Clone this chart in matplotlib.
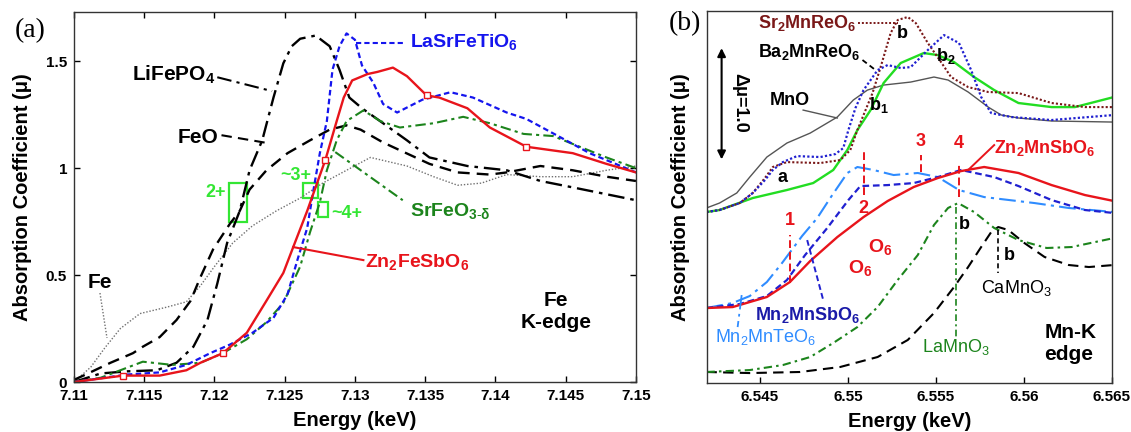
import matplotlib
matplotlib.use("Agg")
import matplotlib.pyplot as plt
from matplotlib.patches import Rectangle

plt.rcParams['font.family'] = ['Liberation Sans', 'DejaVu Sans']
plt.rcParams['mathtext.fontset'] = 'custom'
plt.rcParams['mathtext.rm'] = 'Liberation Sans'
plt.rcParams['mathtext.bf'] = 'Liberation Sans:bold'
plt.rcParams['mathtext.it'] = 'Liberation Sans:italic'

# ---------------- panel (a): Fe K-edge ----------------
fe_x = [7.11, 7.1112, 7.1122, 7.1133, 7.1147, 7.1166, 7.118, 7.119, 7.12, 7.1213, 7.1227, 7.1244, 7.1261,
        7.1277, 7.1294, 7.1311, 7.1337, 7.1356, 7.1373, 7.139, 7.1408, 7.1432, 7.1455, 7.1479, 7.15]
fe_y = [0.0, 0.07, 0.16, 0.25, 0.32, 0.35, 0.375, 0.45, 0.54, 0.65, 0.73, 0.80, 0.86,
        0.93, 0.99, 1.05, 1.01, 0.96, 0.92, 0.93, 0.97, 0.96, 0.96, 0.99, 1.01]

feo_x = [7.11, 7.111, 7.1126, 7.1142, 7.1149, 7.1161, 7.1173, 7.1183, 7.119, 7.1199, 7.1211, 7.1218, 7.1225,
         7.1237, 7.1252, 7.1268, 7.1282, 7.1294, 7.1304, 7.132, 7.1353, 7.1373, 7.1396, 7.1408, 7.1432,
         7.1455, 7.1479, 7.15]
feo_y = [0.01, 0.04, 0.09, 0.135, 0.165, 0.21, 0.29, 0.38, 0.49, 0.62, 0.74, 0.80, 0.90,
         0.99, 1.07, 1.13, 1.18, 1.20, 1.18, 1.12, 1.02, 0.98, 0.97, 0.98, 1.01,
         0.99, 0.96, 0.94]

lifepo4_x = [7.11, 7.1119, 7.1138, 7.1159, 7.1173, 7.1185, 7.1195, 7.1202, 7.1209, 7.1218, 7.1225, 7.1234,
             7.1242, 7.1249, 7.1255, 7.1261, 7.1272, 7.1282, 7.1289, 7.1296, 7.1305, 7.132, 7.1337, 7.1353,
             7.138, 7.1408, 7.1432, 7.1455, 7.15]
lifepo4_y = [0.0, 0.04, 0.05, 0.055, 0.09, 0.165, 0.29, 0.46, 0.65, 0.80, 0.99, 1.13,
             1.33, 1.49, 1.57, 1.605, 1.62, 1.57, 1.46, 1.33, 1.28, 1.21, 1.13, 1.05,
             1.01, 0.99, 0.94, 0.91, 0.85]

srfeo3_x = [7.11, 7.1119, 7.1133, 7.1149, 7.117, 7.119, 7.1206, 7.1223, 7.1237, 7.1249, 7.1261, 7.1268,
            7.1275, 7.128, 7.1287, 7.1294, 7.1306, 7.1318, 7.1332, 7.1356, 7.1377, 7.1396, 7.142, 7.1441,
            7.146, 7.1479, 7.15]
srfeo3_y = [0.0, 0.02, 0.055, 0.095, 0.08, 0.09, 0.135, 0.20, 0.28, 0.37, 0.54, 0.70,
            0.84, 0.99, 1.13, 1.22, 1.27, 1.22, 1.19, 1.21, 1.24, 1.21, 1.16, 1.15,
            1.10, 1.05, 1.0]

lasr_x = [7.11, 7.1138, 7.1161, 7.118, 7.1197, 7.1211, 7.1227, 7.1242, 7.1252, 7.1259, 7.1266, 7.127,
          7.1275, 7.128, 7.1284, 7.1289, 7.1294, 7.13, 7.1305, 7.1313, 7.132, 7.133, 7.1348, 7.1368,
          7.1384, 7.1408, 7.1422, 7.1446, 7.1467, 7.1491, 7.15]
lasr_y = [0.0, 0.035, 0.045, 0.08, 0.135, 0.175, 0.23, 0.30, 0.41, 0.57, 0.72, 0.88,
          1.07, 1.22, 1.46, 1.57, 1.63, 1.60, 1.48, 1.40, 1.30, 1.26, 1.32, 1.355,
          1.33, 1.26, 1.23, 1.145, 1.07, 1.005, 0.98]

zfs_x = [7.11, 7.1135, 7.1161, 7.118, 7.119, 7.1206, 7.1223, 7.1237, 7.1249, 7.1256, 7.1266, 7.1279,
         7.1287, 7.1292, 7.1298, 7.1309, 7.1316, 7.1327, 7.1337, 7.1351, 7.136, 7.138, 7.1396, 7.1422,
         7.1455, 7.1479, 7.15]
zfs_y = [0.0, 0.03, 0.03, 0.055, 0.09, 0.135, 0.23, 0.38, 0.51, 0.63, 0.80, 1.04,
         1.22, 1.33, 1.41, 1.44, 1.45, 1.47, 1.43, 1.34, 1.33, 1.28, 1.19, 1.10,
         1.07, 1.02, 0.98]
zfs_mark_x = [7.1135, 7.1206, 7.1279, 7.1351, 7.1422]
zfs_mark_y = [0.03, 0.135, 1.04, 1.34, 1.10]

a_xticks = [7.11, 7.115, 7.12, 7.125, 7.13, 7.135, 7.14, 7.145, 7.15]
a_yticks = [0, 0.5, 1, 1.5]
a_yticklabels = ['0', '0.5', '1', '1.5']

# ---------------- panel (b): Mn K-edge ----------------
mno_x = [6.54197, 6.54271, 6.54369, 6.54443, 6.5454, 6.54654, 6.54786, 6.5494, 6.55031, 6.55111, 6.55203,
         6.55357, 6.55489, 6.55569, 6.55683, 6.55797, 6.55871, 6.55969, 6.56157, 6.56511]
mno_y = [1.636, 1.682, 1.776, 1.925, 2.112, 2.243, 2.336, 2.486, 2.645, 2.738, 2.785,
         2.813, 2.860, 2.832, 2.720, 2.579, 2.505, 2.477, 2.449, 2.439]

ba_x = [6.54197, 6.54271, 6.54386, 6.5446, 6.54529, 6.54574, 6.54631, 6.54711, 6.54843, 6.54929, 6.54974,
        6.55003, 6.55043, 6.55089, 6.55169, 6.55226, 6.553, 6.55357, 6.55454, 6.55546, 6.55631, 6.557,
        6.55757, 6.55814, 6.55929, 6.56157, 6.56511]
ba_y = [1.598, 1.617, 1.682, 1.776, 1.897, 1.991, 2.065, 2.121, 2.112, 2.140, 2.196,
        2.364, 2.570, 2.738, 2.925, 2.972, 2.944, 2.953, 3.112, 3.252, 3.178, 2.925,
        2.673, 2.523, 2.486, 2.458, 2.505]

sr_x = [6.54197, 6.54271, 6.54386, 6.5446, 6.54529, 6.54574, 6.54654, 6.54843, 6.54957, 6.55014, 6.55054,
        6.5514, 6.55186, 6.55243, 6.55283, 6.5534, 6.55386, 6.55454, 6.55529, 6.55586, 6.55683, 6.55797,
        6.55969, 6.56157, 6.56346, 6.56511]
sr_y = [1.598, 1.617, 1.682, 1.776, 1.916, 2.019, 2.065, 2.056, 2.084, 2.178, 2.364,
        2.710, 2.953, 3.271, 3.393, 3.421, 3.364, 3.178, 3.0, 2.860, 2.766, 2.720,
        2.710, 2.617, 2.579, 2.579]

lime_x = [6.54197, 6.54271, 6.5446, 6.54654, 6.54803, 6.54917, 6.54997, 6.55054, 6.55129, 6.55203, 6.553,
          6.55431, 6.55511, 6.55603, 6.55717, 6.55831, 6.55969, 6.56157, 6.56289, 6.56511]
lime_y = [1.598, 1.617, 1.729, 1.804, 1.869, 1.991, 2.178, 2.364, 2.551, 2.804, 2.991,
          3.084, 3.065, 3.0, 2.860, 2.738, 2.617, 2.579, 2.579, 2.673]

zms_x = [6.54197, 6.54346, 6.5454, 6.54671, 6.54786, 6.5494, 6.55089, 6.55226, 6.55374, 6.55511, 6.55643,
         6.55774, 6.55969, 6.56157, 6.56346, 6.56511]
zms_y = [0.701, 0.710, 0.804, 0.944, 1.140, 1.364, 1.551, 1.701, 1.832, 1.916, 1.981,
         2.019, 1.963, 1.850, 1.757, 1.701]

mmte_x = [6.54197, 6.54346, 6.54443, 6.5454, 6.54626, 6.5474, 6.54826, 6.549, 6.54997, 6.55054, 6.55146,
          6.5526, 6.55397, 6.55511, 6.55631, 6.55774, 6.5606, 6.56254, 6.56511]
mmte_y = [0.701, 0.748, 0.813, 0.944, 1.121, 1.374, 1.542, 1.729, 1.963, 2.019, 1.991,
          1.944, 1.963, 1.925, 1.804, 1.738, 1.682, 1.636, 1.598]

mmsb_x = [6.54197, 6.54386, 6.5454, 6.54654, 6.54757, 6.54883, 6.55003, 6.55071, 6.55226, 6.55374, 6.55511,
          6.55643, 6.55831, 6.55969, 6.56157, 6.56346, 6.56511]
mmsb_y = [0.701, 0.738, 0.813, 0.963, 1.196, 1.449, 1.710, 1.841, 1.850, 1.869, 1.925,
          1.991, 1.925, 1.841, 1.710, 1.617, 1.589]

lamn_x = [6.54197, 6.54443, 6.54631, 6.54786, 6.54917, 6.55054, 6.55169, 6.55283, 6.55397, 6.55489, 6.55569,
          6.55626, 6.55717, 6.55831, 6.55969, 6.56129, 6.56271, 6.56511]
lamn_y = [0.103, 0.121, 0.168, 0.243, 0.374, 0.523, 0.710, 0.963, 1.196, 1.477, 1.636,
          1.682, 1.598, 1.449, 1.336, 1.262, 1.271, 1.355]

camn_x = [6.54197, 6.54443, 6.54729, 6.54957, 6.55169, 6.5534, 6.55489, 6.55603, 6.55683, 6.55757, 6.55814,
          6.55854, 6.55911, 6.56003, 6.56117, 6.56254, 6.56369, 6.56511]
camn_y = [0.103, 0.093, 0.103, 0.150, 0.243, 0.402, 0.654, 0.897, 1.084, 1.271, 1.411,
          1.458, 1.430, 1.308, 1.178, 1.103, 1.084, 1.103]

# red dashed feature markers 1-4: energy, line bottom, line top, label y
feat_labels = ['1', '2', '3', '4']
feat_x = [6.54671, 6.55089, 6.55414, 6.55631]
feat_lo = [0.935, 1.757, 1.972, 1.738]
feat_hi = [1.383, 2.159, 2.131, 2.065]
feat_ty = [1.52, 1.63, 2.26, 2.24]

b_xticks = [6.545, 6.55, 6.555, 6.56, 6.565]

RED = '#e8141b'
BLUE = '#1515ee'
DGREEN = '#1c841c'
LIME = '#33e633'

fig = plt.figure(figsize=(11.31, 4.32), dpi=100)
ax1 = fig.add_axes([0.0654, 0.1157, 0.4969, 0.8565])
ax2 = fig.add_axes([0.6251, 0.1134, 0.3581, 0.8611])

# ---- panel (a)
ax1.plot(fe_x, fe_y, color='#707070', lw=1.0, ls=(0, (1, 1.3)))
ax1.plot(feo_x, feo_y, color='k', lw=1.7, ls=(0, (5, 3)))
ax1.plot(lifepo4_x, lifepo4_y, color='k', lw=1.7, ls=(0, (7, 2.5, 1.5, 2.5)))
ax1.plot(srfeo3_x, srfeo3_y, color=DGREEN, lw=1.5, ls=(0, (5, 2, 1.5, 2)))
ax1.plot(lasr_x, lasr_y, color=BLUE, lw=1.6, ls=(0, (2.5, 1.5)))
ax1.plot(zfs_x, zfs_y, color=RED, lw=1.7)
ax1.plot(zfs_mark_x, zfs_mark_y, 's', ms=4.5, mfc='white', mec=RED, mew=1.0)

ax1.set_xlim(7.11, 7.15)
ax1.set_ylim(0, 1.73)
ax1.set_xticks(a_xticks)
ax1.set_xticklabels([('%g' % v) for v in a_xticks])
ax1.set_yticks(a_yticks)
ax1.set_yticklabels(a_yticklabels)

# leader lines and labels
ax1.plot([7.1202, 7.1241], [1.425, 1.36], color='k', lw=1.5, ls=(0, (7, 2.5, 1.5, 2.5)))
ax1.text(7.1201, 1.435, r'LiFePO$_\mathbf{4}$', ha='right', va='center', fontsize=15, fontweight='bold')
ax1.plot([7.1205, 7.1238], [1.154, 1.117], color='k', lw=1.5, ls=(0, (5, 3)))
ax1.text(7.1203, 1.145, 'FeO', ha='right', va='center', fontsize=15, fontweight='bold')
ax1.plot([7.11185, 7.11235], [0.416, 0.206], color='#707070', lw=1.0, ls=(0, (1, 1.3)))
ax1.text(7.11185, 0.467, 'Fe', ha='center', va='center', fontsize=15, fontweight='bold')
ax1.plot([7.1301, 7.1336], [1.584, 1.584], color=BLUE, lw=1.5, ls=(0, (2.5, 1.5)))
ax1.text(7.1339, 1.589, r'LaSrFeTiO$_\mathbf{6}$', ha='left', va='center', fontsize=14,
         fontweight='bold', color=BLUE)
ax1.plot([7.1286, 7.1334], [1.075, 0.85], color=DGREEN, lw=1.5, ls=(0, (5, 2, 1.5, 2)))
ax1.text(7.1339, 0.80, r'SrFeO$_{\mathbf{3\text{-}δ}}$', ha='left', va='center', fontsize=14,
         fontweight='bold', color=DGREEN)
ax1.plot([7.1256, 7.1306], [0.631, 0.570], color=RED, lw=1.5)
ax1.text(7.1307, 0.561, r'Zn$_\mathbf{2}$FeSbO$_\mathbf{6}$', ha='left', va='center', fontsize=14,
         fontweight='bold', color=RED)
ax1.text(7.1443, 0.33, 'Fe\nK-edge', ha='center', va='center', fontsize=15, fontweight='bold',
         linespacing=1.15)

# oxidation-state boxes
ax1.add_patch(Rectangle((7.1210, 0.748), 0.00135, 0.182, fill=False, ec=LIME, lw=1.6))
ax1.add_patch(Rectangle((7.1263, 0.86), 0.00107, 0.07, fill=False, ec=LIME, lw=1.6))
ax1.add_patch(Rectangle((7.12737, 0.771), 0.0007, 0.07, fill=False, ec=LIME, lw=1.6))
ax1.text(7.1208, 0.888, '2+', ha='right', va='center', fontsize=13, fontweight='bold', color=LIME)
ax1.text(7.1258, 0.965, '~3+', ha='center', va='center', fontsize=13, fontweight='bold', color=LIME)
ax1.text(7.1283, 0.79, '~4+', ha='left', va='center', fontsize=13, fontweight='bold', color=LIME)

ax1.tick_params(direction='in', top=True, right=True, length=4, width=1, pad=5,
                labelsize=11, colors='k')
for lab in ax1.get_xticklabels() + ax1.get_yticklabels():
    lab.set_fontweight('bold')
ax1.set_xlabel('Energy (keV)', fontsize=14.5, fontweight='bold')
ax1.xaxis.set_label_coords(0.5, -0.078)
ax1.set_ylabel('Absorption Coefficient (μ)', fontsize=14.5, fontweight='bold')
ax1.yaxis.set_label_coords(-0.074, 0.5)
fig.text(0.027, 0.93, '(a)', family='Liberation Serif', fontsize=20, ha='center', va='center')

# ---- panel (b)
ax2.plot(mno_x, mno_y, color='#555555', lw=1.0)
ax2.plot(lime_x, lime_y, color='#22dd22', lw=1.7)
ax2.plot(sr_x, sr_y, color='#7a1818', lw=1.5, ls=(0, (1, 1)))
ax2.plot(ba_x, ba_y, color='#2020d0', lw=1.6, ls=(0, (1, 1)))
ax2.plot(camn_x, camn_y, color='k', lw=1.5, ls=(0, (5, 3)))
ax2.plot(lamn_x, lamn_y, color=DGREEN, lw=1.5, ls=(0, (4, 2, 1.2, 2)))
ax2.plot(mmte_x, mmte_y, color='#2f8cff', lw=1.5, ls=(0, (8, 2.5, 1.5, 2.5)))
ax2.plot(mmsb_x, mmsb_y, color='#2020d0', lw=1.6, ls=(0, (3, 1.7)))
ax2.plot(zms_x, zms_y, color=RED, lw=1.7)

for lab, fx, lo, hi, ty in zip(feat_labels, feat_x, feat_lo, feat_hi, feat_ty):
    ax2.plot([fx, fx], [lo, hi], color=RED, lw=1.4, ls=(0, (4, 2)))
    ax2.text(fx, ty, lab, ha='center', va='center', fontsize=13, fontweight='bold', color=RED)

ax2.set_xlim(6.542, 6.565)
ax2.set_ylim(0, 3.477)
ax2.set_xticks(b_xticks)
ax2.set_xticklabels([('%g' % v) for v in b_xticks])
ax2.set_yticks([])

# labels and leaders
ax2.plot([6.5506, 6.55283], [3.364, 3.364], color='#7a1818', lw=1.4, ls=(0, (1, 1)))
ax2.text(6.5505, 3.364, r'Sr$_\mathbf{2}$MnReO$_\mathbf{6}$', ha='right', va='center', fontsize=13,
         fontweight='bold', color='#7a1818')
ax2.plot([6.55083, 6.55157], [3.019, 2.925], color='k', lw=1.3, ls=(0, (3, 2)))
ax2.text(6.5507, 3.093, r'Ba$_\mathbf{2}$MnReO$_\mathbf{6}$', ha='right', va='center', fontsize=13,
         fontweight='bold')
ax2.plot([6.54746, 6.5494], [2.551, 2.477], color='#555555', lw=1.0)
ax2.text(6.54786, 2.645, 'MnO', ha='right', va='center', fontsize=13, fontweight='bold')
ax2.text(6.54626, 1.925, 'a', ha='center', va='center', fontsize=13, fontweight='bold')
ax2.text(6.55311, 3.271, 'b', ha='center', va='center', fontsize=13, fontweight='bold')
ax2.text(6.55174, 2.60, r'b$_\mathbf{1}$', ha='center', va='center', fontsize=13, fontweight='bold')
ax2.text(6.55557, 3.06, r'b$_\mathbf{2}$', ha='center', va='center', fontsize=13, fontweight='bold')
ax2.text(6.5566, 1.477, 'b', ha='center', va='center', fontsize=13, fontweight='bold')
ax2.text(6.55917, 1.196, 'b', ha='center', va='center', fontsize=13, fontweight='bold')

ax2.plot([6.55683, 6.55831], [1.991, 2.224], color=RED, lw=1.4)
ax2.text(6.55831, 2.196, r'Zn$_\mathbf{2}$MnSbO$_\mathbf{6}$', ha='left', va='center', fontsize=13,
         fontweight='bold', color=RED)
ax2.text(6.55186, 1.271, r'O$_\mathbf{6}$', ha='center', va='center', fontsize=14, fontweight='bold', color=RED)
ax2.text(6.55071, 1.075, r'O$_\mathbf{6}$', ha='center', va='center', fontsize=14, fontweight='bold', color=RED)

ax2.plot([6.54769, 6.5486], [1.336, 0.776], color='#2020d0', lw=1.4, ls=(0, (3, 1.7)))
ax2.text(6.54774, 0.636, r'Mn$_\mathbf{2}$MnSbO$_\mathbf{6}$', ha='center', va='center', fontsize=13,
         fontweight='bold', color='#1a1aa8')
ax2.plot([6.54397, 6.54374], [0.822, 0.523], color='#2f8cff', lw=1.3, ls=(0, (8, 2.5, 1.5, 2.5)))
ax2.text(6.54534, 0.43, r'Mn$_\mathrm{2}$MnTeO$_\mathrm{6}$', ha='center', va='center', fontsize=13,
         color='#2f8cff')
ax2.plot([6.55614, 6.55614], [1.645, 0.43], color=DGREEN, lw=1.2, ls=(0, (4, 2, 1.2, 2)))
ax2.text(6.55614, 0.336, r'LaMnO$_\mathrm{3}$', ha='center', va='center', fontsize=13, color=DGREEN)
ax2.plot([6.55854, 6.55854], [1.43, 1.028], color='k', lw=1.2, ls=(0, (3, 2)))
ax2.text(6.55957, 0.888, r'CaMnO$_\mathrm{3}$', ha='center', va='center', fontsize=13)
ax2.text(6.56117, 0.37, 'Mn-K\nedge', ha='left', va='center', fontsize=15, fontweight='bold',
         linespacing=1.15)

ax2.annotate('', xy=(6.54283, 3.13), xytext=(6.54283, 2.09),
             arrowprops=dict(arrowstyle='<|-|>', color='k', lw=1.5, mutation_scale=12,
                             shrinkA=0, shrinkB=0))
ax2.text(6.54386, 2.62, 'Δμ=1.0', rotation=-90, ha='center', va='center', fontsize=13, fontweight='bold')

ax2.tick_params(axis='x', direction='in', length=4, width=1, pad=5, labelsize=11)
for lab in ax2.get_xticklabels():
    lab.set_fontweight('bold')
ax2.set_xlabel('Energy (keV)', fontsize=14.5, fontweight='bold')
ax2.xaxis.set_label_coords(0.5, -0.078)
ax2.set_ylabel('Absorption Coefficient (μ)', fontsize=14.5, fontweight='bold')
ax2.yaxis.set_label_coords(-0.042, 0.5)
fig.text(0.6055, 0.945, '(b)', family='Liberation Serif', fontsize=20, ha='center', va='center')

for ax in (ax1, ax2):
    for sp in ax.spines.values():
        sp.set_color('#333333')
        sp.set_linewidth(1.0)

fig.savefig('out.png', dpi=100)
